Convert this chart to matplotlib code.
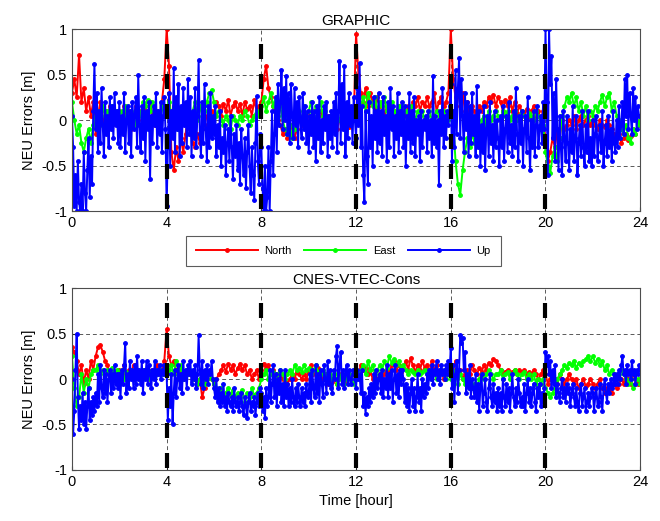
import numpy as np
import matplotlib
matplotlib.use('Agg')
import matplotlib.pyplot as plt

plt.rcParams['font.family'] = ['Liberation Sans', 'DejaVu Sans']

# North / East: one value every 0.1 hour; Up: one value every 0.05 hour (0..24)

# ---- GRAPHIC ----
graphic_north = [
    0.30, 0.45, 0.25, 0.72, 0.20, 0.35, 0.10, 0.25, 0.05, 0.20,
    -0.15, 0.05, 0.20, -0.05, 0.10, 0.00, 0.15, -0.05, 0.10, 0.05,
    0.10, -0.05, 0.15, 0.00, 0.10, -0.10, 0.05, 0.15, 0.00, 0.10,
    0.05, 0.15, 0.00, 0.20, 0.05, -0.05, 0.10, 0.00, 0.20, 0.45,
    1.00, 0.60, -0.35, -0.55, -0.30, -0.45, -0.20, -0.35, -0.15, 0.05,
    -0.10, -0.25, -0.30, -0.15, -0.25, -0.10, -0.05, 0.05, 0.00, 0.10,
    0.05, 0.20, 0.15, 0.05, 0.18, 0.10, 0.22, 0.05, 0.15, 0.20,
    0.10, 0.18, 0.05, 0.20, 0.12, 0.15, 0.05, 0.22, 0.10, 0.15,
    0.20, 0.45, 0.60, 0.35, 0.25, 0.15, 0.05, 0.00, -0.05, -0.15,
    -0.10, -0.20, -0.15, -0.05, -0.20, -0.10, 0.00, -0.05, 0.05, 0.00,
    0.05, 0.00, 0.10, -0.05, 0.05, 0.10, 0.00, -0.05, 0.05, 0.00,
    -0.05, 0.05, -0.10, 0.00, -0.05, 0.05, 0.00, -0.08, 0.05, 0.00,
    0.95, 0.50, 0.30, 0.20, 0.35, 0.15, 0.30, 0.20, 0.10, 0.25,
    0.15, 0.20, 0.05, 0.15, 0.10, 0.00, 0.10, 0.05, 0.15, 0.05,
    0.10, 0.05, 0.15, 0.10, 0.20, 0.15, 0.25, 0.10, 0.20, 0.15,
    0.25, 0.15, 0.20, 0.30, 0.10, 0.20, 0.25, 0.15, 0.20, 0.30,
    1.00, 0.45, 0.25, 0.35, 0.15, 0.30, 0.10, 0.20, 0.05, 0.15,
    0.10, 0.05, 0.15, 0.10, 0.20, 0.15, 0.25, 0.20, 0.28, 0.15,
    0.25, 0.20, 0.10, 0.22, 0.15, 0.25, 0.10, 0.20, 0.08, 0.15,
    0.10, 0.05, 0.12, 0.05, 0.10, 0.15, 0.05, 0.10, 0.00, 0.10,
    -0.25, -0.45, -0.35, -0.20, -0.30, -0.10, -0.20, 0.00, -0.10, -0.05,
    0.00, -0.05, 0.05, -0.10, 0.00, 0.05, -0.05, 0.00, 0.05, -0.05,
    0.00, -0.05, -0.10, 0.00, -0.05, -0.08, 0.00, -0.05, -0.10, -0.15,
    -0.20, -0.15, -0.25, -0.20, -0.15, -0.22, -0.18, -0.10, -0.15, -0.05,
    0.00]

graphic_east = [
    0.20, 0.00, -0.15, -0.05, -0.25, -0.35, -0.20, -0.10, -0.25, -0.05,
    0.05, 0.10, -0.05, 0.15, 0.05, 0.10, 0.00, 0.15, 0.05, 0.10,
    0.00, 0.10, 0.05, 0.15, 0.00, 0.10, 0.05, -0.05, 0.10, 0.05,
    0.20, 0.15, 0.22, 0.10, 0.20, 0.05, 0.10, 0.00, 0.15, 0.05,
    0.10, 0.20, 0.05, 0.15, -0.05, -0.10, 0.05, 0.10, 0.00, 0.15,
    0.05, 0.10, 0.20, 0.00, 0.15, 0.05, 0.10, 0.20, 0.30, 0.33,
    0.20, 0.05, 0.10, 0.00, -0.05, 0.05, 0.00, -0.10, 0.05, 0.00,
    -0.05, 0.05, 0.00, 0.10, 0.05, -0.05, 0.00, 0.05, 0.10, 0.05,
    0.15, 0.25, 0.10, 0.20, 0.30, 0.15, 0.25, 0.05, 0.15, 0.00,
    -0.10, -0.15, -0.05, -0.20, -0.10, 0.05, 0.10, 0.00, 0.15, 0.05,
    0.10, 0.20, 0.05, 0.15, 0.10, 0.20, 0.05, 0.10, 0.00, 0.05,
    0.00, 0.05, 0.10, 0.00, 0.05, -0.05, 0.05, 0.00, 0.10, 0.05,
    0.10, 0.05, 0.15, 0.25, 0.10, 0.30, 0.20, 0.15, 0.25, 0.10,
    0.20, 0.15, 0.25, 0.10, 0.15, 0.20, 0.10, 0.05, 0.15, 0.10,
    0.15, 0.10, 0.05, 0.15, 0.10, 0.00, 0.10, 0.05, 0.10, 0.00,
    0.05, 0.10, 0.00, 0.05, 0.10, 0.05, 0.00, 0.10, 0.05, 0.00,
    0.10, 0.00, -0.45, -0.70, -0.82, -0.55, -0.35, -0.20, -0.30, -0.15,
    -0.25, -0.10, -0.20, 0.00, 0.05, -0.05, 0.10, 0.00, 0.05, 0.10,
    0.05, 0.00, 0.10, 0.05, 0.10, 0.00, 0.05, 0.10, 0.00, 0.05,
    0.10, 0.05, 0.00, 0.08, 0.05, 0.00, 0.10, 0.05, 0.00, -0.05,
    -0.35, -0.50, -0.58, -0.40, -0.30, -0.45, -0.20, 0.05, 0.15, 0.25,
    0.20, 0.30, 0.15, 0.25, 0.10, 0.20, 0.05, 0.15, 0.00, 0.10,
    0.05, 0.15, 0.10, 0.20, 0.28, 0.15, 0.25, 0.30, 0.10, 0.20,
    0.05, 0.00, -0.10, -0.15, -0.05, -0.20, -0.25, -0.10, -0.15, -0.05,
    0.00]

graphic_up = [
    0.05, -0.30, -0.95, -0.60, -1.00, -0.45, -0.90, -1.00, -0.70, -1.00,
    -0.35, -0.80, -1.00, -0.55, -0.20, -0.85, -0.40, -0.70, 0.10, 0.62,
    -0.10, 0.30, -0.35, 0.10, -0.25, 0.35, -0.05, -0.40, 0.20, -0.15,
    0.05, -0.30, 0.25, -0.10, 0.15, -0.20, 0.30, -0.05, 0.10, -0.25,
    0.20, -0.30, 0.05, -0.15, 0.30, -0.35, 0.00, 0.15, -0.25, 0.10,
    -0.40, 0.20, -0.10, 0.05, 0.25, -0.30, 0.50, -0.05, -0.35, 0.15,
    -0.20, 0.25, -0.45, 0.10, -0.10, 0.20, -0.65, 0.05, -0.25, 0.15,
    -0.05, 0.30, -0.30, 0.10, -0.15, 0.20, -0.35, 0.05, 0.25, -0.10,
    -0.95, -0.30, 0.30, -0.50, 0.10, -0.20, 0.57, -0.35, 0.25, -0.10,
    0.40, -0.40, 0.15, -0.25, 0.35, -0.05, 0.20, -0.30, 0.45, -0.15,
    0.25, -0.40, 0.10, -0.20, 0.35, -0.30, 0.05, 0.66, -0.15, -0.40,
    0.20, -0.25, 0.40, -0.10, -0.45, 0.15, -0.30, 0.30, -0.20, 0.05,
    -0.15, 0.15, -0.40, -0.05, -0.30, 0.10, -0.50, -0.20, -0.35, -0.05,
    -0.60, -0.25, -0.10, -0.45, 0.05, -0.30, -0.65, -0.15, -0.40, -0.05,
    -0.55, -0.25, -0.70, -0.10, -0.40, -0.60, -0.20, -0.75, -0.35, -0.05,
    -0.50, -0.80, -0.30, -0.60, -0.88, -0.25, 0.26, -0.45, -0.70, -0.15,
    -0.30, -0.75, -1.00, -0.50, -1.00, -0.85, -0.30, -1.00, -0.45, 0.10,
    -0.60, -0.15, 0.25, -0.35, 0.40, -0.05, 0.20, 0.55, -0.10, 0.35,
    0.00, 0.48, -0.15, 0.30, -0.25, 0.40, 0.05, -0.20, 0.35, -0.05,
    0.20, -0.30, 0.25, 0.00, -0.20, 0.30, -0.10, 0.15, -0.25, 0.10,
    -0.35, 0.05, -0.15, 0.20, -0.30, 0.10, -0.45, 0.15, -0.20, 0.25,
    -0.35, 0.00, -0.25, 0.15, -0.10, 0.20, -0.40, 0.05, -0.20, 0.10,
    -0.30, 0.20, -0.15, 0.30, -0.35, 0.10, 0.65, -0.25, 0.40, -0.10,
    0.60, -0.40, 0.20, -0.20, 0.30, -0.05, 0.15, -0.25, 0.25, 0.00,
    -0.20, 0.35, -0.05, 0.63, -0.30, 0.15, -0.60, -0.90, 0.10, -0.40,
    -0.70, 0.20, -0.30, 0.05, -0.50, 0.25, -0.20, 0.10, -0.35, 0.30,
    -0.25, 0.10, -0.40, 0.25, -0.15, 0.05, -0.45, 0.20, -0.30, 0.35,
    -0.10, 0.15, -0.40, 0.05, -0.20, 0.30, -0.35, 0.10, -0.15, 0.20,
    -0.30, 0.15, -0.50, 0.05, -0.20, 0.30, -0.35, 0.10, -0.25, 0.25,
    -0.40, 0.00, -0.15, 0.05, -0.45, 0.10, -0.30, 0.00, -0.10, 0.05,
    -0.35, 0.10, -0.20, 0.00, -0.40, 0.48, -0.25, 0.05, -0.30, 0.00,
    -0.71, 0.10, -0.15, 0.35, -0.30, 0.05, -0.20, 0.10, -0.05, 0.15,
    0.40, -0.45, 0.10, -0.30, 0.55, -0.15, 0.35, 0.68, -0.20, 0.45,
    0.05, -0.35, 0.30, -0.10, 0.20, -0.40, 0.15, -0.25, 0.30, -0.15,
    0.05, -0.40, 0.37, -0.30, 0.10, -0.50, -0.05, -0.35, 0.15, -0.55,
    -0.10, 0.05, -0.40, 0.20, -0.25, -0.05, -0.45, 0.10, -0.30, 0.00,
    -0.20, -0.50, 0.05, -0.30, 0.15, -0.45, -0.10, 0.05, -0.35, 0.20,
    -0.25, -0.05, -0.40, 0.10, -0.30, 0.35, -0.15, -0.45, 0.05, -0.25,
    0.10, -0.50, -0.10, 0.05, -0.35, 0.25, -0.20, -0.55, 0.00, -0.30,
    0.10, -0.40, -0.05, 0.15, -0.30, -0.10, 0.05, -0.25, 0.20, -0.10,
    1.00, 0.20, -0.60, 1.00, 0.40, 0.70, -0.20, 0.30, -0.45, 0.45,
    -0.10, -0.55, 0.05, -0.30, -0.60, 0.10, -0.20, -0.45, 0.05, -0.25,
    -0.55, -0.10, -0.35, 0.15, -0.45, -0.20, 0.05, -0.60, -0.25, -0.05,
    -0.40, 0.10, -0.30, -0.50, -0.05, -0.35, 0.10, -0.45, -0.20, -0.50,
    0.00, -0.40, -0.15, 0.05, -0.45, -0.20, -0.05, -0.35, 0.10, -0.50,
    -0.25, -0.05, -0.40, 0.05, -0.30, -0.10, -0.45, 0.10, -0.25, -0.35,
    0.00, -0.30, 0.15, -0.20, -0.05, 0.20, -0.15, 0.45, 0.05, 0.50,
    -0.10, 0.30, 0.05, -0.15, 0.35, 0.00, 0.25, -0.10, 0.15, 0.05,
    0.05]

# ---- CNES-VTEC-Cons ----
cnes_north = [
    0.35, 0.30, 0.20, 0.05, 0.15, -0.05, 0.10, 0.00, 0.20, 0.10,
    0.25, 0.35, 0.37, 0.30, 0.20, 0.15, 0.05, 0.10, 0.00, 0.05,
    0.10, 0.05, 0.15, 0.00, 0.10, 0.05, 0.15, 0.10, 0.05, 0.00,
    0.05, 0.10, 0.00, 0.05, 0.10, 0.05, 0.15, 0.05, 0.10, 0.20,
    0.55, 0.25, 0.15, 0.20, 0.10, 0.05, 0.10, 0.00, 0.05, 0.10,
    0.05, 0.00, 0.05, -0.05, 0.00, -0.20, -0.10, 0.00, 0.05, 0.00,
    -0.05, 0.00, 0.05, 0.10, 0.15, 0.08, 0.17, 0.10, 0.15, 0.05,
    0.12, 0.17, 0.10, 0.15, 0.05, 0.10, 0.00, 0.05, 0.10, 0.00,
    0.10, 0.17, 0.12, 0.15, 0.08, 0.10, 0.05, 0.00, 0.05, 0.00,
    0.05, -0.05, 0.00, 0.05, 0.00, 0.08, 0.05, 0.00, 0.05, 0.00,
    0.10, 0.15, 0.05, 0.10, 0.12, 0.05, 0.00, 0.05, -0.05, 0.00,
    -0.03, 0.00, -0.05, 0.05, 0.00, -0.03, 0.00, 0.05, 0.00, 0.05,
    0.10, 0.05, 0.15, 0.10, 0.12, 0.05, 0.10, 0.00, -0.05, 0.00,
    0.05, 0.00, 0.05, 0.10, 0.05, 0.15, 0.20, 0.10, 0.15, 0.08,
    0.12, 0.20, 0.10, 0.23, 0.15, 0.08, 0.15, 0.10, 0.20, 0.12,
    0.15, 0.08, 0.20, 0.10, 0.15, 0.05, 0.10, 0.00, 0.05, 0.10,
    0.15, 0.10, 0.20, 0.05, 0.10, 0.00, 0.05, 0.10, 0.05, 0.15,
    0.10, 0.05, 0.12, 0.08, 0.15, 0.10, 0.18, 0.15, 0.22, 0.20,
    0.15, 0.10, 0.05, 0.08, 0.10, 0.05, 0.08, 0.10, 0.05, 0.10,
    0.08, 0.10, 0.05, 0.08, 0.05, 0.10, 0.05, 0.00, 0.05, 0.10,
    0.05, -0.05, 0.00, 0.05, 0.00, -0.05, 0.05, 0.00, -0.05, 0.00,
    0.05, 0.00, -0.05, 0.00, -0.10, -0.05, 0.00, -0.08, -0.05, 0.00,
    -0.05, -0.10, -0.05, 0.00, -0.10, -0.15, -0.10, -0.12, -0.15, -0.05,
    -0.10, -0.05, 0.00, -0.05, 0.05, 0.00, -0.05, 0.05, 0.00, -0.05,
    0.00]

cnes_east = [
    0.25, -0.10, -0.30, -0.20, 0.05, -0.15, 0.00, -0.10, 0.05, 0.10,
    0.10, 0.15, 0.05, 0.10, 0.00, 0.10, 0.05, 0.12, 0.00, 0.10,
    0.05, 0.10, 0.00, 0.08, 0.05, 0.10, 0.00, 0.05, 0.10, 0.05,
    0.10, 0.05, 0.10, 0.00, 0.08, 0.10, 0.05, 0.10, 0.05, 0.10,
    0.05, 0.10, 0.15, 0.05, 0.20, 0.10, 0.15, 0.00, 0.10, 0.05,
    0.10, 0.00, 0.05, -0.05, 0.00, 0.05, -0.05, 0.00, 0.05, 0.00,
    -0.05, -0.10, -0.15, -0.10, -0.20, -0.15, -0.10, -0.18, -0.12, -0.20,
    -0.15, -0.20, -0.12, -0.25, -0.15, -0.20, -0.10, -0.18, -0.15, -0.10,
    0.00, 0.05, 0.10, 0.00, 0.05, 0.08, 0.00, 0.05, 0.10, 0.05,
    0.00, 0.05, 0.10, 0.05, 0.15, 0.10, 0.12, 0.08, 0.15, 0.10,
    0.12, 0.05, 0.10, 0.15, 0.08, 0.05, 0.10, 0.05, 0.00, 0.05,
    0.00, 0.05, -0.05, 0.00, 0.05, -0.05, 0.00, 0.05, 0.00, -0.05,
    0.00, 0.05, 0.10, 0.15, 0.05, 0.20, 0.10, 0.15, 0.05, 0.10,
    0.15, 0.10, 0.20, 0.12, 0.25, 0.18, 0.22, 0.15, 0.20, 0.10,
    0.15, 0.10, 0.05, 0.10, 0.08, 0.05, 0.10, 0.05, 0.08, 0.10,
    0.05, 0.10, 0.05, 0.08, 0.00, 0.05, 0.10, 0.05, 0.00, 0.05,
    0.00, 0.05, 0.10, -0.05, 0.05, 0.00, -0.05, 0.05, -0.10, -0.10,
    -0.05, -0.10, 0.00, 0.05, 0.00, 0.05, 0.10, 0.05, 0.00, 0.05,
    0.05, 0.10, 0.00, 0.05, 0.08, 0.00, 0.05, 0.10, 0.05, 0.00,
    0.05, 0.08, 0.00, 0.05, 0.00, 0.05, -0.05, 0.00, -0.05, 0.00,
    -0.10, -0.15, -0.20, -0.15, -0.10, 0.00, 0.05, 0.10, 0.15, 0.12,
    0.18, 0.15, 0.20, 0.12, 0.18, 0.15, 0.20, 0.22, 0.25, 0.20,
    0.25, 0.18, 0.22, 0.15, 0.20, 0.10, 0.15, 0.05, 0.10, 0.05,
    0.00, 0.05, 0.10, 0.05, 0.00, -0.05, 0.00, -0.10, -0.05, 0.00,
    -0.05]

cnes_up = [
    0.00, -0.60, -0.35, 0.10, 0.50, -0.20, -0.55, -0.30, -0.45, -0.15,
    -0.50, -0.25, -0.55, -0.30, -0.10, -0.45, -0.25, -0.40, -0.20, -0.35,
    -0.15, -0.30, 0.05, -0.25, 0.15, -0.10, -0.20, 0.10, -0.15, 0.05,
    -0.25, 0.00, 0.10, -0.15, 0.05, -0.10, 0.15, -0.05, 0.05, -0.10,
    0.05, -0.20, 0.10, -0.05, 0.15, 0.40, -0.15, 0.05, -0.10, 0.20,
    0.00, 0.10, -0.10, 0.15, -0.05, 0.25, 0.00, 0.10, -0.05, 0.20,
    -0.15, 0.10, 0.00, 0.20, -0.05, 0.15, 0.05, -0.10, 0.10, 0.00,
    0.20, -0.05, 0.10, 0.05, 0.15, 0.00, 0.10, 0.05, 0.15, 0.05,
    0.05, -0.45, -0.10, -0.30, 0.05, -0.50, -0.15, 0.10, -0.20, 0.00,
    0.15, -0.10, 0.05, -0.15, 0.20, 0.00, 0.10, -0.10, 0.15, 0.05,
    0.20, -0.05, 0.10, 0.00, 0.15, -0.10, 0.05, 0.48, 0.10, -0.05,
    0.20, -0.10, 0.10, 0.00, 0.15, -0.05, 0.10, 0.05, 0.20, 0.00,
    -0.10, -0.20, 0.00, -0.25, -0.10, -0.30, -0.15, -0.25, -0.05, -0.30,
    -0.20, -0.35, -0.15, -0.25, -0.30, -0.20, -0.35, -0.10, -0.25, -0.30,
    -0.20, -0.35, -0.25, -0.15, -0.30, -0.40, -0.20, -0.30, -0.43, -0.25,
    -0.15, -0.35, -0.25, -0.30, -0.20, -0.40, -0.25, -0.15, -0.30, -0.10,
    -0.15, -0.35, -0.20, -0.43, -0.10, -0.30, -0.20, 0.10, -0.25, -0.05,
    0.15, -0.20, 0.05, -0.30, 0.00, -0.15, 0.10, -0.25, -0.05, -0.30,
    0.10, -0.20, -0.05, -0.30, -0.10, -0.25, 0.00, -0.20, -0.30, -0.10,
    -0.25, -0.05, -0.20, -0.30, -0.10, -0.25, -0.15, -0.30, -0.05, -0.20,
    -0.15, 0.05, -0.25, 0.10, -0.10, -0.20, 0.15, -0.15, 0.05, -0.25,
    0.10, -0.05, -0.20, 0.15, 0.00, -0.15, 0.20, -0.05, 0.10, -0.10,
    -0.15, 0.10, 0.00, 0.25, 0.36, -0.10, 0.15, 0.30, -0.05, 0.10,
    -0.10, 0.05, 0.15, -0.05, 0.10, 0.00, -0.05, 0.10, 0.05, 0.00,
    -0.10, 0.10, 0.00, 0.05, -0.15, 0.10, -0.30, -0.15, -0.38, -0.20,
    -0.30, -0.10, -0.25, -0.05, -0.20, 0.05, -0.15, 0.10, -0.10, 0.00,
    0.05, -0.15, 0.10, -0.20, 0.00, -0.10, 0.15, -0.20, 0.05, -0.10,
    0.10, -0.25, 0.00, 0.15, -0.15, 0.05, -0.20, 0.10, -0.05, 0.10,
    0.00, -0.25, -0.05, -0.30, -0.10, -0.35, -0.15, 0.00, -0.30, -0.10,
    -0.35, -0.20, 0.05, -0.25, -0.10, -0.35, 0.00, -0.20, -0.05, -0.15,
    0.05, -0.10, 0.10, 0.00, 0.15, -0.05, 0.10, 0.05, 0.20, 0.00,
    0.10, -0.05, 0.15, 0.05, 0.10, 0.00, 0.15, 0.05, 0.20, 0.10,
    0.34, -0.10, 0.15, -0.25, 0.05, 0.20, -0.15, 0.10, 0.48, 0.40,
    0.45, 0.10, 0.30, -0.15, 0.05, -0.10, 0.15, -0.20, 0.00, -0.10,
    -0.20, 0.05, -0.25, -0.05, -0.35, -0.10, 0.05, -0.30, -0.15, 0.00,
    -0.25, -0.35, -0.10, 0.05, -0.20, -0.30, -0.05, -0.25, -0.15, -0.35,
    -0.10, -0.30, -0.15, -0.35, 0.00, -0.20, -0.30, -0.05, -0.25, -0.10,
    -0.35, -0.15, 0.05, -0.20, -0.30, -0.10, -0.25, 0.00, -0.15, -0.30,
    -0.20, -0.30, -0.05, -0.35, -0.15, 0.00, -0.25, -0.10, -0.30, -0.15,
    -0.05, -0.25, -0.35, -0.10, -0.20, -0.05, -0.30, -0.15, -0.25, -0.10,
    0.30, 0.15, 0.25, 0.05, 0.20, -0.10, 0.10, -0.05, 0.15, -0.20,
    -0.05, -0.15, -0.25, -0.10, 0.00, -0.20, -0.10, -0.25, -0.05, -0.15,
    -0.10, -0.30, -0.15, -0.05, -0.20, -0.30, -0.10, -0.25, -0.35, -0.15,
    -0.05, -0.30, -0.20, -0.10, -0.35, -0.25, -0.15, -0.30, -0.20, -0.10,
    -0.15, -0.35, -0.20, -0.10, -0.30, -0.25, -0.05, -0.20, -0.35, -0.10,
    0.00, -0.15, -0.25, -0.05, -0.15, 0.00, -0.10, -0.05, 0.05, -0.05,
    0.05, -0.05, 0.10, 0.00, 0.15, 0.25, 0.05, 0.10, -0.05, 0.15,
    0.05, 0.10, 0.00, 0.20, 0.05, 0.10, -0.05, 0.10, 0.05, 0.15,
    0.10]

panels = [
    ('GRAPHIC', graphic_north, graphic_east, graphic_up),
    ('CNES-VTEC-Cons', cnes_north, cnes_east, cnes_up),
]
series_style = [('North', 'red'), ('East', (0, 1, 0)), ('Up', 'blue')]
boundaries = [4, 8, 12, 16, 20]
xticks = [0, 4, 8, 12, 16, 20, 24]
yticks = [-1, -0.5, 0, 0.5, 1]
ytick_labels = ['-1', '-0.5', '0', '0.5', '1']

fig = plt.figure(figsize=(6.6, 5.21), dpi=100)
axes = [fig.add_axes([0.109, 0.595, 0.861, 0.349]),
        fig.add_axes([0.109, 0.098, 0.861, 0.349])]

for ax, (title, *series) in zip(axes, panels):
    for vals, (name, col) in zip(series, series_style):
        t = np.linspace(0, 24, len(vals))
        ax.plot(t, vals, color=col, marker='.', ms=5, lw=1.4, label=name)
    for b in boundaries:
        ax.plot([b, b], [1, -1], color='black', lw=3,
                ls=(3.6, (3.6, 3.6)), zorder=5)
    ax.set_xlim(0, 24)
    ax.set_ylim(-1, 1)
    ax.set_xticks(xticks)
    ax.set_yticks(yticks)
    ax.set_yticklabels(ytick_labels)
    ax.grid(True, ls='--', color='0.35', lw=0.7, dashes=(4, 3))
    ax.set_axisbelow(True)
    ax.tick_params(direction='in', length=3, labelsize=10.5, colors='0.15',
                   labelcolor='black')
    for s in ax.spines.values():
        s.set_color('0.3')
        s.set_linewidth(0.8)
    ax.set_title(title, fontsize=11, pad=3)
    ax.set_ylabel('NEU Errors [m]', fontsize=10.5)

axes[1].set_xlabel('Time [hour]', fontsize=10.5)

handles, labels = axes[0].get_legend_handles_labels()
leg = fig.legend(handles, labels, loc='center', bbox_to_anchor=(0.52, 0.518),
                 ncol=3, fontsize=8, handlelength=5.6, numpoints=1,
                 fancybox=False, frameon=True, borderpad=0.9,
                 columnspacing=1.1, handletextpad=0.6)
leg.get_frame().set_edgecolor('0.2')
leg.get_frame().set_linewidth(0.8)

fig.savefig('out.png', dpi=100)
